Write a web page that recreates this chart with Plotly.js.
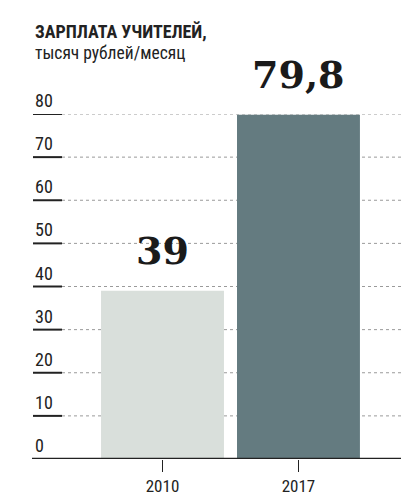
<!DOCTYPE html>
<html><head><meta charset="utf-8">
<script src="https://cdn.plot.ly/plotly-3.0.1.min.js"></script>
<style>html,body{margin:0;padding:0;background:#fff;}#chart{width:401px;height:496px;}</style>
</head><body><div id="chart"></div>
<script>
const years = ['2010', '2017'];
const salaries = [39, 79.8];
const valueLabels = ['39', '79,8'];
const yTicks = [0, 10, 20, 30, 40, 50, 60, 70, 80];
const barColors = ['#d9dfdb', '#647b80'];

const narrow = '"Roboto Condensed", "Liberation Sans Narrow", Roboto, sans-serif';
const L = 62, W = 401 - L;
const leftEdge = (33 - L) / W;

const shapes = [];
const annotations = [];
yTicks.forEach(v => {
  if (v > 0) {
    shapes.push({type: 'line', xref: 'paper', yref: 'y', x0: 0, x1: 1, y0: v, y1: v,
      line: {color: '#9a9a9a', width: 1, dash: 'dot'}, layer: 'below'});
  }
  shapes.push({type: 'line', xref: 'paper', yref: 'y', x0: leftEdge, x1: 0, y0: v, y1: v,
    line: {color: '#222', width: 2}});
  annotations.push({xref: 'paper', yref: 'y', x: leftEdge, y: v, xanchor: 'left', yanchor: 'bottom',
    yshift: 1, text: String(v), showarrow: false, font: {family: narrow, size: 18, color: '#222'}});
});
shapes.push({type: 'line', xref: 'paper', yref: 'y', x0: (32 - L) / W, x1: 1, y0: 0, y1: 0,
  line: {color: '#222', width: 2.5}});

years.forEach((y, i) => {
  annotations.push({x: i, y: salaries[i], xref: 'x', yref: 'y', text: '<b>' + valueLabels[i] + '</b>', showarrow: false,
    yanchor: 'middle', yshift: 40, font: {family: 'DejaVu Serif, serif', size: 38, color: '#1a1a1a'}});
});

annotations.push({xref: 'paper', yref: 'paper', x: leftEdge, y: 1, yshift: 83, xanchor: 'left', yanchor: 'middle',
  text: '<b>ЗАРПЛАТА УЧИТЕЛЕЙ,</b>', showarrow: false, font: {family: narrow, size: 18, color: '#222'}});
annotations.push({xref: 'paper', yref: 'paper', x: leftEdge, y: 1, yshift: 61, xanchor: 'left', yanchor: 'middle',
  text: 'тысяч рублей/месяц', showarrow: false, font: {family: narrow, size: 17.5, color: '#222'}});

const trace = {type: 'bar', x: years, y: salaries, width: 0.904,
  marker: {color: barColors, line: {width: 0}}, hoverinfo: 'none'};

const layout = {
  width: 401, height: 496,
  margin: {l: L, r: 0, t: 113.5, b: 37},
  paper_bgcolor: '#fff', plot_bgcolor: '#fff',
  showlegend: false,
  xaxis: {type: 'category', range: [-0.739, 1.754], showgrid: false, zeroline: false, showline: false,
    ticks: 'outside', ticklen: 12, tickwidth: 1.5, tickcolor: '#222',
    tickfont: {family: narrow, size: 17, color: '#222'}, fixedrange: true},
  yaxis: {range: [0, 80], showgrid: false, zeroline: false, showline: false, showticklabels: false,
    ticks: '', fixedrange: true},
  shapes: shapes,
  annotations: annotations
};
Plotly.newPlot('chart', [trace], layout, {displayModeBar: false, staticPlot: true});
</script></body></html>
